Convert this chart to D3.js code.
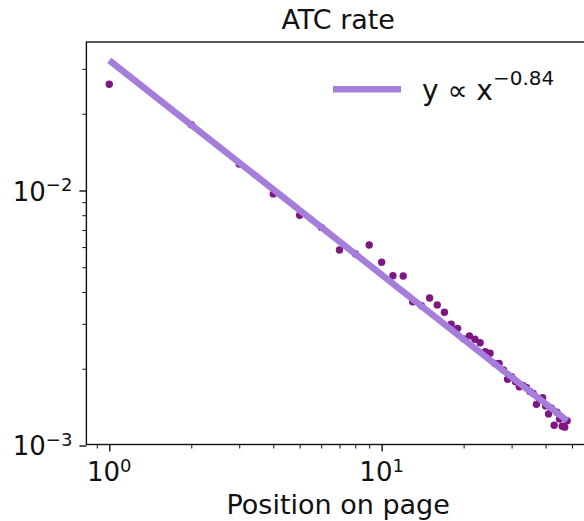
<!DOCTYPE html>
<meta charset="utf-8">

<script src="https://d3js.org/d3.v7.min.js"></script>

<style>
body {
  margin: 0;
  background-color: #FFFFFF;
}
svg {
  font-family: "DejaVu Sans", sans-serif;
}
.axis path, .axis line {
  stroke: #111;
}
</style>

<svg id="chart" width="584" height="521"></svg>

<script>
// position on the page (x) and the add-to-cart rate measured there (y)
const positions = [1, 2, 3, 4, 5, 6, 7, 8, 9, 10, 11, 12, 13, 14, 15, 16,
  17, 18, 19, 20, 21, 22, 23, 24, 25, 26, 27, 28, 29, 30, 31, 32,
  33, 34, 35, 36, 37, 38, 39, 40, 41, 42, 43, 44, 45, 46, 47, 48];
const atcRate = [0.0261, 0.0181, 0.0127, 0.0097, 0.0080, 0.00717, 0.00584, 0.00565,
  0.00611, 0.00523, 0.00463, 0.00462, 0.00366, 0.00353, 0.00379, 0.00356,
  0.00333, 0.00299, 0.00288, 0.00262, 0.00269, 0.00261, 0.00253, 0.00233,
  0.0023, 0.0021, 0.0021, 0.00198, 0.00182, 0.00186, 0.00178, 0.0017,
  0.00172, 0.00169, 0.00163, 0.0016, 0.00145, 0.00152, 0.00154, 0.00143,
  0.00133, 0.0014, 0.0012, 0.00135, 0.00127, 0.00119, 0.00118, 0.00125];

// power-law fit, end points (straight on log-log)
const fitX = [1, 48];
const fitY = [0.0324, 0.00125];
const fitLabel = ["y \u221D x", "\u22120.84"];

// ticks
const xMajor = [1, 10];
const xMajorExp = ["0", "1"];
const xMinor = [0.9, 2, 3, 4, 5, 6, 7, 8, 9, 20, 30, 40, 50];
const yMajor = [0.001, 0.01];
const yMajorExp = ["\u22123", "\u22122"];
const yMinor = [0.002, 0.003, 0.004, 0.005, 0.006, 0.007, 0.008, 0.009, 0.02, 0.03];

const svg = d3.select("#chart");
const mLeft = 86.4, mRight = 590, mTop = 42, mBottom = 444.5;

const x = d3.scaleLog()
  .domain([Math.pow(10, -0.084), Math.pow(10, 1.765)])
  .range([mLeft, mRight]);
const y = d3.scaleLog()
  .domain([Math.pow(10, -2.9961), Math.pow(10, -1.4176)])
  .range([mBottom, mTop]);

svg.append("clipPath").attr("id", "clip")
  .append("rect")
  .attr("x", mLeft).attr("y", mTop)
  .attr("width", mRight - mLeft).attr("height", mBottom - mTop);

const plot = svg.append("g").attr("clip-path", "url(#clip)");

// scatter first, fit line on top of it
plot.selectAll("circle")
  .data(positions)
  .enter().append("circle")
  .attr("cx", d => x(d))
  .attr("cy", (d, i) => y(atcRate[i]))
  .attr("r", 3.7)
  .attr("fill", "#7e1682");

plot.append("path")
  .datum(fitX.map((d, i) => [d, fitY[i]]))
  .attr("fill", "none")
  .attr("stroke", "#a57ddb")
  .attr("stroke-width", 6.5)
  .attr("d", d3.line().x(d => x(d[0])).y(d => y(d[1])));

// axes
function addAxis(axis, ticks, size, transform) {
  svg.append("g")
    .attr("class", "axis")
    .attr("transform", transform)
    .call(axis.tickValues(ticks).tickSize(size).tickSizeOuter(0).tickFormat(""))
    .call(g => g.select(".domain").remove())
    .selectAll("line").attr("stroke-width", size > 5 ? 1.4 : 1);
}
addAxis(d3.axisBottom(x), xMajor, 7, `translate(0,${mBottom})`);
addAxis(d3.axisBottom(x), xMinor, 4, `translate(0,${mBottom})`);
addAxis(d3.axisLeft(y), yMajor, 7, `translate(${mLeft},0)`);
addAxis(d3.axisLeft(y), yMinor, 4, `translate(${mLeft},0)`);

// frame
svg.append("rect")
  .attr("x", mLeft).attr("y", mTop)
  .attr("width", mRight - mLeft).attr("height", mBottom - mTop)
  .attr("fill", "none")
  .attr("stroke", "#111")
  .attr("stroke-width", 1.4);

// power-of-ten labels
function powLabel(px, py, anchor, exp) {
  const t = svg.append("text")
    .attr("x", px).attr("y", py)
    .attr("text-anchor", anchor)
    .attr("font-size", 26)
    .attr("fill", "#111");
  t.append("tspan").text("10");
  t.append("tspan").attr("dy", -9.5).attr("font-size", 18).text(exp);
}
xMajor.forEach((d, i) => powLabel(x(d), 481, "middle", xMajorExp[i]));
yMajor.forEach((d, i) => powLabel(mLeft - 14, y(d) + 10, "end", yMajorExp[i]));

// titles
svg.append("text")
  .attr("x", (mLeft + mRight) / 2).attr("y", 29)
  .attr("text-anchor", "middle")
  .attr("font-size", 27)
  .attr("fill", "#111")
  .text("ATC rate");

svg.append("text")
  .attr("x", (mLeft + mRight) / 2).attr("y", 514)
  .attr("text-anchor", "middle")
  .attr("font-size", 27)
  .attr("fill", "#111")
  .text("Position on page");

// legend
const legend = svg.append("g");
legend.append("line")
  .attr("x1", 333).attr("x2", 401)
  .attr("y1", 89.3).attr("y2", 89.3)
  .attr("stroke", "#a57ddb")
  .attr("stroke-width", 6.5);
const lt = legend.append("text")
  .attr("x", 422).attr("y", 100)
  .attr("font-size", 28)
  .attr("fill", "#111");
lt.append("tspan").text(fitLabel[0]);
lt.append("tspan").attr("dy", -15).attr("font-size", 20).text(fitLabel[1]);
</script>
